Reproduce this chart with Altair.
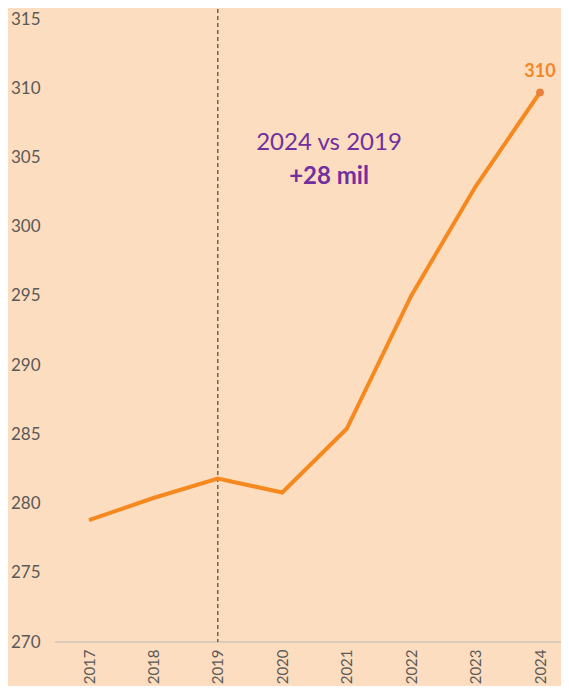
import altair as alt
import pandas as pd

years = ["2017", "2018", "2019", "2020", "2021", "2022", "2023", "2024"]
values = [278.8, 280.4, 281.8, 280.8, 285.4, 295.0, 302.9, 309.7]
last_label = "310"
annot_line1 = "2024 vs 2019"
annot_line2 = "+28 mil"
ref_year = "2019"
y_ticks = [270, 275, 280, 285, 290, 295, 300, 305, 310, 315]

BG = "#FDDDBF"
ORANGE = "#F5891F"
PURPLE = "#7030A0"
GRAY = "#595959"
FONT = "Lato"

df = pd.DataFrame({"year": years, "value": values})
last = df.iloc[[-1]].assign(label=last_label)
ref = pd.DataFrame({"year": [ref_year]})
base = pd.DataFrame({"value": [270]})

W, H = 508, 623

xscale = alt.Scale(type="point", range=[36, 487], padding=0)
x = alt.X("year:N", sort=years, title=None, scale=xscale,
          axis=alt.Axis(labelAngle=270, labelFontSize=15, labelColor=GRAY, labelFont=FONT,
                        labelPadding=7, ticks=False, domain=False, grid=False))
yscale = alt.Scale(domain=[270, 315], nice=False, zero=False)
y = alt.Y("value:Q", title=None, scale=yscale,
          axis=alt.Axis(values=y_ticks, labelFontSize=17, labelColor=GRAY, labelFont=FONT,
                        labelPadding=13, ticks=False, domain=False, grid=False))

baseline = alt.Chart(base).mark_rule(color="#D0C4B8", strokeWidth=1.5).encode(
    y=alt.Y("value:Q", scale=yscale), x=alt.value(2), x2=alt.value(W))

line = alt.Chart(df).mark_line(color=ORANGE, strokeWidth=4).encode(x=x, y=y)

rule = alt.Chart(ref).mark_rule(color="#262626", strokeDash=[4, 3], strokeWidth=1).encode(
    x=alt.X("year:N", sort=years, scale=xscale),
    y=alt.value(-10), y2=alt.value(H))

pt = alt.Chart(last).mark_point(filled=True, color="#E8803C", size=60, opacity=1).encode(x=x, y=y)
lbl = alt.Chart(last).mark_text(color="#F0872A", fontSize=18, fontWeight="bold", font=FONT,
                                dy=-20, baseline="middle").encode(x=x, y=y, text="label:N")

a1 = alt.Chart(pd.DataFrame({"t": [annot_line1]})).mark_text(
    color=PURPLE, fontSize=24, font=FONT, baseline="middle").encode(
    x=alt.value(276), y=alt.value(124), text="t:N")
a2 = alt.Chart(pd.DataFrame({"t": [annot_line2]})).mark_text(
    color=PURPLE, fontSize=24, font=FONT, fontWeight="bold", baseline="middle").encode(
    x=alt.value(276), y=alt.value(158), text="t:N")

chart = alt.layer(baseline, rule, line, pt, lbl, a1, a2).properties(
    width=W, height=H, background=BG,
    autosize=alt.AutoSizeParams(type="none"),
    padding={"left": 45, "top": 11, "right": 0, "bottom": 44},
).configure_view(stroke=None)

chart.save("out.html", embed_options={"renderer": "svg", "actions": False})
